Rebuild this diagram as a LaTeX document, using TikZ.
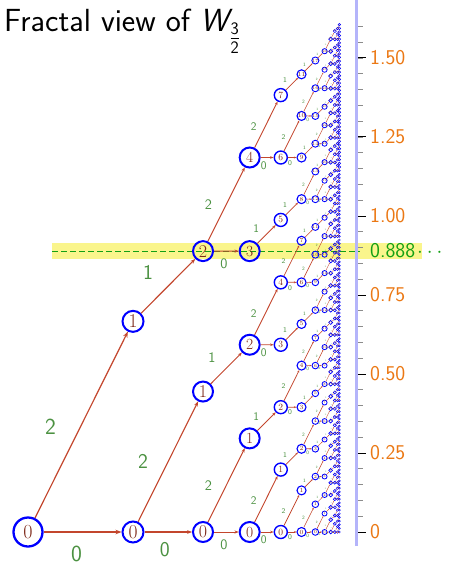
\documentclass[tikz,border=0pt]{standalone}
\usepackage{fontspec}
\usetikzlibrary{arrows.meta}
\definecolor{edgecol}{RGB}{195,70,45}
\definecolor{numcol}{RGB}{125,40,25}
\definecolor{labcol}{RGB}{75,145,65}
\definecolor{tickcol}{RGB}{235,120,20}
\definecolor{axiscol}{RGB}{180,180,250}
\definecolor{bandcol}{RGB}{250,245,140}
\definecolor{dashcol}{RGB}{20,160,20}
\tikzset{
  treenode/.style={circle, draw=blue, text=numcol, inner sep=0pt},
  edgeline/.style={draw=edgecol},
  elabel/.style={text=labcol, inner sep=0pt},
  axisline/.style={draw=axiscol, line width=3pt},
  minortick/.style={draw=black!45, line width=0.8pt},
  majortick/.style={draw=black, line width=1pt},
  ticklabel/.style={text=tickcol, anchor=west, inner sep=0pt, font=\sffamily\fontsize{21}{21}\selectfont},
}
\def\Mlist{{0,1,2,4,7,11,17,26,40,61,92,139}}
\def\Rlist{{14.5,10.5,10,10,6.5,4.5,3.3,2.5,1.9,1.5,1.2,1}}
\def\NFlist{{20,19.5,18,15.5,9.5,6.3,4.6,3.4,2.6,2,1.5,1.2}}
\def\NLWlist{{2.3,2,2,2,1.4,1.1,0.9,0.8,0.7,0.6,0.5,0.5}}
\def\LFlist{{23,21,14.5,11.6,7.2,5,3.3,2.2,1.5,1,0.7,0.5}}
\def\LOlist{{1,0.83,0.6,0.38,0.25,0.17,0.11,0.075,0.05,0.033,0.022,0.015}}
\def\ELWlist{{1.2,1.1,1,0.9,0.75,0.6,0.5,0.4,0.35,0.3,0.25,0.2}}
\def\ALlist{{6,5,4.2,3.5,2.6,2,1.5,1.1,0.8,0.6,0.5,0.4}}
\begin{document}
\begin{tikzpicture}[x=1pt,y=-1pt]
\useasboundingbox (0,0) rectangle (451,564);
% highlight band
\fill[bandcol] (52,243) rectangle (422,259);
\coordinate (dl) at (52,251.1);
\coordinate (dr) at (360,251.1);
\draw[dashcol, dash pattern=on 6pt off 3pt, line width=1pt] (dl) -- (dr);
% title
\node[anchor=base west, inner sep=0pt, font=\sffamily\fontsize{32}{38}\selectfont] (title) at (4,32)
  {Fractal view of $\textit{W}$\kern1pt\raisebox{-12.5pt}{\fontsize{25}{25}\selectfont$\frac{\mathsf{3}}{\mathsf{2}}$}};
% axis
\coordinate (axb) at (356.5,546);
\coordinate (axt) at (356.5,0);
\draw[axisline] (axb) -- (axt);
\foreach \i in {0,...,32}{
  \pgfmathsetmacro\ty{532-15.8*\i}
  \coordinate (t\i) at (358,\ty);
  \draw[minortick] (t\i) -- ++(5,0);
}
\foreach \j/\t in {0/0,1/0.25,2/0.50,3/0.75,4/1.00,5/1.25,6/1.50}{
  \pgfmathsetmacro\ty{532-79*\j}
  \coordinate (mt\j) at (358,\ty);
  \draw[majortick] (mt\j) -- ++(8,0);
  \node[ticklabel] (lab\j) at (370,\ty) {\t};
}
\node[ticklabel, text=dashcol] (lab888) at (370,251.1) {0.888\kern2pt${\cdot}\kern4pt{\cdot}\kern4pt{\cdot}$};
% tree nodes
\foreach \k in {0,...,11}{
  \pgfmathtruncatemacro\M{\Mlist[\k]}
  \pgfmathsetmacro\d{2*\Rlist[\k]}
  \pgfmathsetmacro\nf{\NFlist[\k]}
  \pgfmathsetmacro\nlw{\NLWlist[\k]}
  \pgfmathsetmacro\xx{28+315*(1-(2/3)^\k)}
  \pgfmathsetmacro\sc{316*(2/3)^\k}
  \foreach \n in {0,...,\M}{
    \pgfmathsetmacro\yy{532-\sc*\n}
    \node[treenode, minimum size=\d pt, line width=\nlw pt, font=\fontsize{\nf}{\nf}\selectfont] (n\k-\n) at (\xx,\yy) {\n};
  }
}
% edges and labels
\foreach \k in {1,...,11}{
  \pgfmathtruncatemacro\km{\k-1}
  \pgfmathtruncatemacro\M{\Mlist[\k]}
  \pgfmathsetmacro\elw{\ELWlist[\km]}
  \pgfmathsetmacro\al{\ALlist[\km]}
  \pgfmathsetmacro\aw{0.75*\ALlist[\km]}
  \pgfmathsetmacro\lf{\LFlist[\km]}
  \pgfmathsetmacro\lo{\LOlist[\km]}
  \pgfmathsetmacro\xm{28+315*(1-(2/3)^\km)/2+315*(1-(2/3)^\k)/2}
  \pgfmathsetmacro\scp{158*(2/3)^\km}
  \pgfmathsetmacro\scc{158*(2/3)^\k}
  \foreach \n in {0,...,\M}{
    \pgfmathtruncatemacro\p{floor(2*\n/3)}
    \pgfmathtruncatemacro\a{2*\n-3*\p}
    \pgfmathsetmacro\ym{532-\scp*\p-\scc*\n}
    \pgfmathsetmacro\ox{{-4,-24,-30}[\a]*\lo}
    \pgfmathsetmacro\oy{{21.5,-17,0}[\a]*\lo}
    \draw[edgeline, line width=\elw pt, -{Stealth[length=\al pt, width=\aw pt]}] (n\km-\p) -- (n\k-\n);
    \node[elabel, font=\sffamily\fontsize{\lf}{\lf}\selectfont] (l\k-\n) at ({\xm+\ox},{\ym+\oy}) {\a};
  }
}
\end{tikzpicture}
\end{document}
